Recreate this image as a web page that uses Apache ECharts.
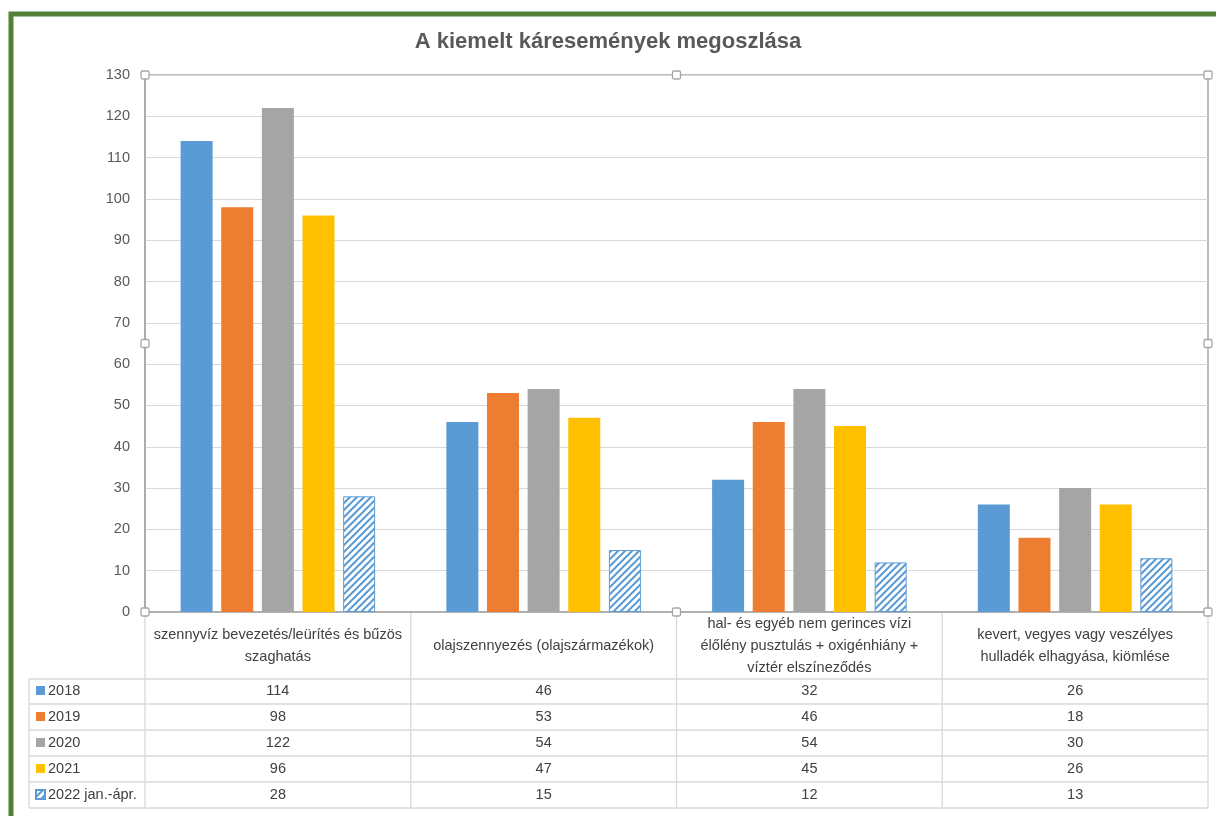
<!DOCTYPE html>
<html>
<head>
<meta charset="utf-8">
<script src="https://cdn.jsdelivr.net/npm/echarts@6/dist/echarts.min.js"></script>
<style>
html,body{margin:0;padding:0;background:#fff;}
#chart{width:1216px;height:816px;}
</style>
</head>
<body>
<div id="chart"></div>
<script>
const categories = [
  'szennyvíz bevezetés/leürítés és bűzös\nszaghatás',
  'olajszennyezés (olajszármazékok)',
  'hal- és egyéb nem gerinces vízi\nélőlény pusztulás + oxigénhiány +\nvíztér elszíneződés',
  'kevert, vegyes vagy veszélyes\nhulladék elhagyása, kiömlése'
];
const seriesNames = ['2018', '2019', '2020', '2021', '2022 jan.-ápr.'];
const values2018 = [114, 46, 32, 26];
const values2019 = [98, 53, 46, 18];
const values2020 = [122, 54, 54, 30];
const values2021 = [96, 47, 45, 26];
const values2022 = [28, 15, 12, 13];
const yTicks = [0, 10, 20, 30, 40, 50, 60, 70, 80, 90, 100, 110, 120, 130];

const allValues = [values2018, values2019, values2020, values2021, values2022];
const colors = ['#5B9BD5', '#ED7D31', '#A5A5A5', '#FFC000', '#5B9BD5'];

// hatch pattern
const pc = document.createElement('canvas');
pc.width = 7; pc.height = 7;
const pctx = pc.getContext('2d');
pctx.fillStyle = '#ffffff';
pctx.fillRect(0, 0, 7, 7);
pctx.strokeStyle = '#5B9BD5';
pctx.lineWidth = 2;
pctx.beginPath();
pctx.moveTo(-1, 8); pctx.lineTo(8, -1);
pctx.moveTo(-1, 1); pctx.lineTo(1, -1);
pctx.moveTo(6, 8); pctx.lineTo(8, 6);
pctx.stroke();
const hatch = { image: pc, repeat: 'repeat' };

const G = { left: 145, right: 1208, top: 75, bottom: 612 };
const font = '"Liberation Sans", Arial, sans-serif';

const xAxes = [{
  type: 'category',
  data: categories,
  gridIndex: 0,
  position: 'bottom',
  axisLine: { show: true, lineStyle: { color: '#a6a6a6', width: 1.5 } },
  axisTick: { show: false },
  axisLabel: {
    interval: 0, margin: 34, verticalAlign: 'middle', lineHeight: 22,
    fontSize: 14.5, fontFamily: font, color: '#404040'
  }
}];
allValues.forEach((vals, i) => {
  xAxes.push({
    type: 'category',
    data: vals.map(String),
    gridIndex: 0,
    position: 'bottom',
    offset: 79 + i * 26,
    axisLine: { show: false },
    axisTick: { show: false },
    axisLabel: {
      interval: 0, margin: 0, verticalAlign: 'middle',
      fontSize: 14.5, fontFamily: font, color: '#404040'
    }
  });
});

const series = allValues.map((vals, i) => ({
  name: seriesNames[i],
  type: 'bar',
  data: vals,
  barWidth: 32,
  barGap: '27%',
  xAxisIndex: 0,
  itemStyle: i === 4
    ? { color: hatch, borderColor: '#5B9BD5', borderWidth: 1 }
    : { color: colors[i] },
  emphasis: { disabled: true },
  animation: false
}));

// table lines
const lineStyle = { stroke: '#d9d9d9', lineWidth: 1.3 };
const graphics = [];
const rowYs = [679, 704, 730, 756, 782, 808];
rowYs.forEach(y => graphics.push({ type: 'line', shape: { x1: 29, y1: y, x2: G.right, y2: y }, style: lineStyle, silent: true }));
const colW = (G.right - G.left) / categories.length;
graphics.push({ type: 'line', shape: { x1: 29, y1: 679, x2: 29, y2: 808 }, style: lineStyle, silent: true });
for (let k = 0; k <= categories.length; k++) {
  const x = G.left + k * colW;
  graphics.push({ type: 'line', shape: { x1: x, y1: G.bottom, x2: x, y2: 808 }, style: lineStyle, silent: true });
}
// selection handles
const hx = [G.left, (G.left + G.right) / 2, G.right];
const hy = [G.top, (G.top + G.bottom) / 2, G.bottom];
hx.forEach((x, a) => hy.forEach((y, b) => {
  if (a === 1 && b === 1) return;
  graphics.push({ type: 'rect', shape: { x: x - 4, y: y - 4, width: 8, height: 8, r: 1.5 }, style: { fill: '#fff', stroke: '#a6a6a6', lineWidth: 1.3 }, z: 100 });
}));
// green frame
graphics.push({ type: 'rect', shape: { x: 11, y: 14, width: 1400, height: 1000 }, style: { fill: 'none', stroke: '#538135', lineWidth: 5 }, z: 100 });

const chart = echarts.init(document.getElementById('chart'), null, { renderer: 'canvas' });
chart.setOption({
  animation: false,
  backgroundColor: '#ffffff',
  title: {
    text: 'A kiemelt káresemények megoszlása',
    left: 'center',
    top: 26,
    textStyle: { fontSize: 22, fontWeight: 'bold', fontFamily: font, color: '#595959' }
  },
  legend: {
    orient: 'vertical',
    left: 35,
    top: 682,
    padding: 0,
    itemWidth: 9,
    itemHeight: 9,
    itemGap: 9,
    icon: 'rect',
    data: seriesNames,
    selectedMode: false,
    textStyle: { fontSize: 14.5, fontFamily: font, color: '#404040', padding: [0, 0, 0, -2], lineHeight: 17 }
  },
  grid: {
    left: G.left, top: G.top, width: G.right - G.left, height: G.bottom - G.top,
    show: true, borderColor: '#a6a6a6', borderWidth: 1.5, containLabel: false
  },
  xAxis: xAxes,
  yAxis: {
    type: 'value',
    min: yTicks[0],
    max: yTicks[yTicks.length - 1],
    interval: 10,
    axisLine: { show: true, lineStyle: { color: '#a6a6a6', width: 1.5 } },
    axisTick: { show: false },
    axisLabel: { margin: 15, fontSize: 14.5, fontFamily: font, color: '#595959' },
    splitLine: { lineStyle: { color: '#d9d9d9', width: 1.2 } }
  },
  series: series,
  graphic: graphics
});
</script>
</body>
</html>
